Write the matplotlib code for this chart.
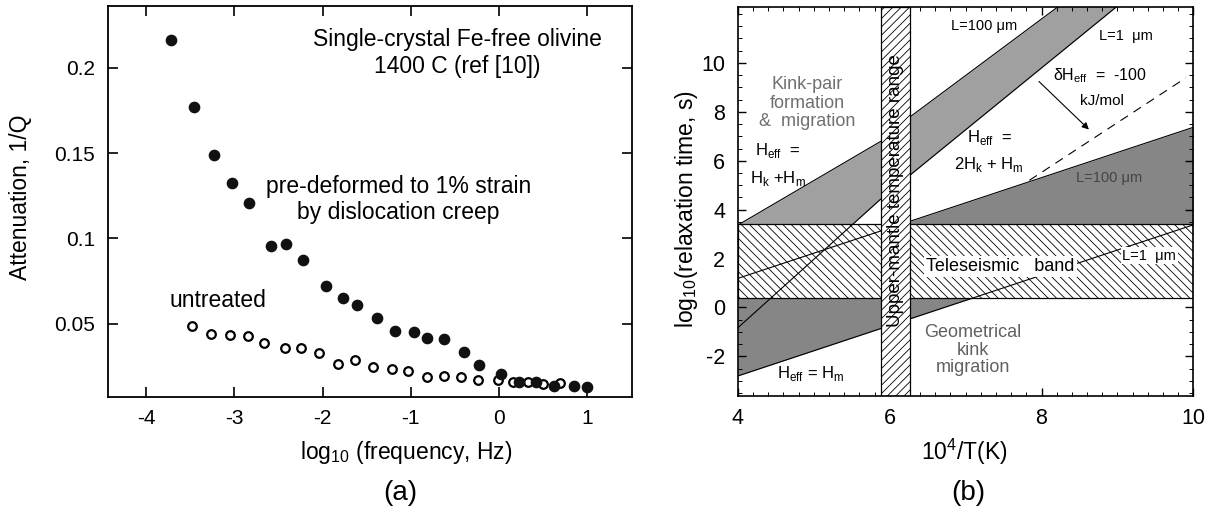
import matplotlib
matplotlib.use("Agg")
import matplotlib.pyplot as plt
from matplotlib.ticker import MultipleLocator

plt.rcParams["font.family"] = ["Liberation Sans", "DejaVu Sans"]
plt.rcParams["axes.unicode_minus"] = False
plt.rcParams["hatch.linewidth"] = 0.6

# ---- (a) attenuation vs frequency ----
logf_deformed = [-3.716, -3.456, -3.230, -3.026, -2.829, -2.582, -2.419, -2.222,
                 -1.963, -1.767, -1.612, -1.382, -1.181, -0.964, -0.821, -0.621,
                 -0.403, -0.223, 0.022, 0.230, 0.424, 0.628, 0.850, 0.995]
qinv_deformed = [0.2161, 0.1773, 0.1491, 0.1327, 0.1209, 0.0954, 0.0966, 0.0875,
                 0.0723, 0.0651, 0.0612, 0.0534, 0.0457, 0.0449, 0.0416, 0.0408,
                 0.0332, 0.0258, 0.0203, 0.0158, 0.0157, 0.0132, 0.0132, 0.0130]
logf_untreated = [-3.481, -3.264, -3.055, -2.841, -2.666, -2.427, -2.243, -2.043,
                  -1.825, -1.629, -1.424, -1.219, -1.031, -0.821, -0.629, -0.437,
                  -0.240, -0.012, 0.157, 0.327, 0.497, 0.685]
qinv_untreated = [0.0488, 0.0441, 0.0435, 0.0428, 0.0389, 0.0360, 0.0356, 0.0327,
                  0.0264, 0.0288, 0.0249, 0.0233, 0.0224, 0.0189, 0.0194, 0.0190,
                  0.0167, 0.0170, 0.0159, 0.0160, 0.0145, 0.0150]

# ---- (b) relaxation-time map (band edges as end points, 1e4/T vs log10 tau) ----
x_range = [4.0, 10.0]
tele_band = [0.4, 3.4]
mantle_range = [5.88, 6.27]
geo_x = [4.0, 10.0]            # H_eff = H_m band
geo_lo = [-2.80, 3.38]         # L = 1 um
geo_hi = [1.19, 7.37]          # L = 100 um
kp_left_x = [4.0, 5.88]        # H_eff = H_k + H_m
kp_left_lo = [-0.83, 4.43]
kp_left_hi = [3.37, 6.79]
kp_right_x = [6.27, 10.0]      # H_eff = 2H_k + H_m
kp_right_lo = [5.42, 14.86]
kp_right_hi = [7.80, 16.42]
shift_x = [7.84, 9.90]         # dH_eff = -100 kJ/mol
shift_y = [5.20, 9.39]

fig = plt.figure(figsize=(12.08, 5.12), dpi=100)

# ---------------- panel (a) ----------------
ax1 = fig.add_axes([0.0892, 0.2252, 0.4338, 0.7637])
ax1.plot(logf_untreated, qinv_untreated, "o", ms=6.2, mfc="white", mec="black", mew=1.6)
ax1.plot(logf_deformed, qinv_deformed, "o", ms=7.4, mfc="#111111", mec="#111111")
ax1.set_xlim(-4.435, 1.504)
ax1.set_ylim(0.0072, 0.2365)
ax1.set_xticks([-4, -3, -2, -1, 0, 1])
ax1.set_yticks([0.05, 0.1, 0.15, 0.2])
ax1.set_yticklabels(["0.05", "0.1", "0.15", "0.2"])
ax1.tick_params(direction="in", length=7, width=1.2, top=True, right=True,
                labelsize=15, pad=9)
for s in ax1.spines.values():
    s.set_linewidth(1.3)
ax1.set_xlabel(r"log$_{\mathregular{10}}$ (frequency, Hz)", fontsize=16.5)
ax1.set_ylabel("Attenuation, 1/Q", fontsize=16.5)
ax1.xaxis.set_label_coords(0.569, -0.108)
ax1.yaxis.set_label_coords(-0.145, 0.51)

ax1.text(-0.47, 0.2165, "Single-crystal Fe-free olivine", ha="center", va="center", fontsize=16.5)
ax1.text(-0.47, 0.2006, "1400 C (ref [10])", ha="center", va="center", fontsize=16.5)
ax1.text(-1.14, 0.1306, "pre-deformed to 1% strain", ha="center", va="center", fontsize=16.5)
ax1.text(-1.14, 0.1151, "by dislocation creep", ha="center", va="center", fontsize=16.5)
ax1.text(-3.19, 0.0636, "untreated", ha="center", va="center", fontsize=16.5)

# ---------------- panel (b) ----------------
ax2 = fig.add_axes([0.6108, 0.2275, 0.3771, 0.7594])
light, dark = "#a0a0a0", "#868686"
ax2.fill_between(kp_left_x, kp_left_lo, kp_left_hi, color=light, lw=0, zorder=1)
ax2.fill_between(kp_right_x, kp_right_lo, kp_right_hi, color=light, lw=0, zorder=1)
ax2.fill_between(geo_x, geo_lo, geo_hi, color=dark, lw=0, zorder=1.1)

ax2.fill_between(x_range, tele_band[0], tele_band[1], facecolor="white",
                 edgecolor="black", hatch="\\\\\\\\", lw=0.9, zorder=2)

for xs, ys in [(kp_left_x, kp_left_lo), (kp_left_x, kp_left_hi),
               (kp_right_x, kp_right_lo), (kp_right_x, kp_right_hi),
               (geo_x, geo_lo), (geo_x, geo_hi)]:
    ax2.plot(xs, ys, color="black", lw=0.8, zorder=3)
ax2.plot(shift_x, shift_y, color="black", lw=0.8, ls=(0, (8, 6)), zorder=3)
ax2.annotate("", xy=(8.65, 7.20), xytext=(7.94, 9.32),
             arrowprops=dict(arrowstyle="-|>", color="black", lw=0.8,
                             mutation_scale=10), zorder=3)

ax2.axvspan(mantle_range[0], mantle_range[1], facecolor="white", edgecolor="black",
            hatch="////", lw=0.9, zorder=4)
ax2.text(sum(mantle_range) / 2, 4.8, "Upper-mantle temperature range", rotation=90,
         ha="center", va="center", fontsize=13.5, zorder=5)

ax2.set_xlim(4, 10)
ax2.set_ylim(-3.6, 12.3)
ax2.set_xticks([4, 6, 8, 10])
ax2.set_yticks([-2, 0, 2, 4, 6, 8, 10])
ax2.xaxis.set_minor_locator(MultipleLocator(0.2))
ax2.yaxis.set_minor_locator(MultipleLocator(0.5))
ax2.tick_params(which="both", direction="in", top=True, right=True)
ax2.tick_params(which="major", length=6, width=1.0, labelsize=15.5, pad=9)
ax2.tick_params(which="minor", length=3, width=0.7)
for s in ax2.spines.values():
    s.set_linewidth(1.2)
    s.set_zorder(6)
ax2.set_xlabel(r"10$^{\mathregular{4}}$/T(K)", fontsize=16.5)
ax2.set_ylabel(r"log$_{\mathregular{10}}$(relaxation time, s)", fontsize=16.5)
ax2.xaxis.set_label_coords(0.498, -0.107)
ax2.yaxis.set_label_coords(-0.083, 0.48)

t_kw = dict(ha="center", va="center", zorder=5)
ax2.text(4.91, 8.36, "Kink-pair\nformation\n&  migration", fontsize=13,
         color="#707070", linespacing=1.1, **t_kw)
ax2.text(4.53, 6.42, r"H$_{\mathregular{eff}}$  =", fontsize=12, **t_kw)
ax2.text(4.53, 5.29, r"H$_{\mathregular{k}}$ +H$_{\mathregular{m}}$", fontsize=12, **t_kw)
ax2.text(7.25, 11.53, "L=100 \u03bcm", fontsize=10.5, **t_kw)
ax2.text(9.11, 11.12, "L=1  \u03bcm", fontsize=10.5, **t_kw)
ax2.text(8.77, 9.48, "\u03b4H$_{\\mathregular{eff}}$  =  -100", fontsize=11.5, **t_kw)
ax2.text(8.80, 8.43, "kJ/mol", fontsize=11, **t_kw)
ax2.text(7.32, 6.95, r"H$_{\mathregular{eff}}$  =", fontsize=12, **t_kw)
ax2.text(7.30, 5.83, r"2H$_{\mathregular{k}}$ + H$_{\mathregular{m}}$", fontsize=12, **t_kw)
ax2.text(8.89, 5.29, "L=100 \u03bcm", fontsize=10.5, color="#444444", **t_kw)
ax2.text(7.46, 1.67, "Teleseismic   band", fontsize=13,
         bbox=dict(facecolor="white", edgecolor="none", pad=1.5), **t_kw)
ax2.text(9.42, 2.12, "L=1  \u03bcm", fontsize=10.5,
         bbox=dict(facecolor="white", edgecolor="none", pad=1.0), **t_kw)
ax2.text(7.10, -1.75, "Geometrical\nkink\nmigration", fontsize=13,
         color="#606060", linespacing=1.05, **t_kw)
ax2.text(4.96, -2.70, r"H$_{\mathregular{eff}}$ = H$_{\mathregular{m}}$", fontsize=12, **t_kw)

fig.text(400 / 1208, 1 - 493 / 512, "(a)", ha="center", va="center", fontsize=20)
fig.text(968 / 1208, 1 - 493 / 512, "(b)", ha="center", va="center", fontsize=20)

fig.savefig("out.png", dpi=100, facecolor="white")
